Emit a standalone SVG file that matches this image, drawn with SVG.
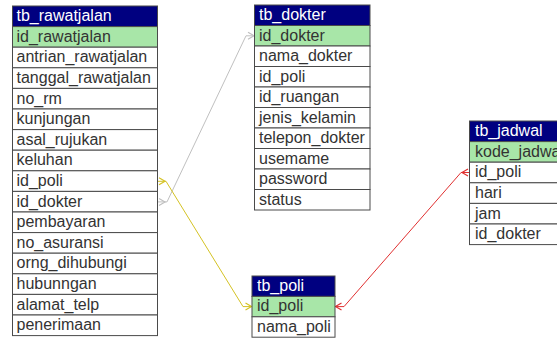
<svg xmlns="http://www.w3.org/2000/svg" width="557" height="339" viewBox="0 0 557 339">
<style>
  .bg{fill:#ffffff}
  .row{fill:#ffffff;stroke:#4a4a4a;stroke-width:1}
  .pk{fill:#a8e6a8;stroke:#4a4a4a;stroke-width:1}
  .hd{fill:#000080;stroke:#4a4a4a;stroke-width:1}
  .ht{font-family:"Liberation Sans",Arial,sans-serif;font-size:16px;fill:#ffffff}
  .t{font-family:"Liberation Sans",Arial,sans-serif;font-size:16px;fill:#333333}
  .c{fill:none;stroke-width:1}
</style>
<defs>
  <marker id="pkGray" markerUnits="userSpaceOnUse" markerWidth="8" markerHeight="8" refX="6" refY="3.5" orient="auto" overflow="visible"><path d="M0,0 L6,3.5 L0,7" fill="none" stroke="#c0c0c0" stroke-width="1.2"/></marker>
  <marker id="fkGray" markerUnits="userSpaceOnUse" markerWidth="8" markerHeight="8" refX="-1" refY="3.5" orient="auto" overflow="visible"><path d="M0,0 L6,3.5 L0,7" fill="none" stroke="#c0c0c0" stroke-width="1.2"/></marker>
  <marker id="pkYel" markerUnits="userSpaceOnUse" markerWidth="8" markerHeight="8" refX="6" refY="3.5" orient="auto" overflow="visible"><path d="M0,0 L6,3.5 L0,7" fill="none" stroke="#d4c224" stroke-width="1.2"/></marker>
  <marker id="fkYel" markerUnits="userSpaceOnUse" markerWidth="8" markerHeight="8" refX="-1" refY="3.5" orient="auto" overflow="visible"><path d="M0,0 L6,3.5 L0,7" fill="none" stroke="#d4c224" stroke-width="1.2"/></marker>
  <marker id="pkRed" markerUnits="userSpaceOnUse" markerWidth="8" markerHeight="8" refX="6" refY="3.5" orient="auto" overflow="visible"><path d="M0,0 L6,3.5 L0,7" fill="none" stroke="#e03030" stroke-width="1.2"/></marker>
  <marker id="fkRed" markerUnits="userSpaceOnUse" markerWidth="8" markerHeight="8" refX="-1" refY="3.5" orient="auto" overflow="visible"><path d="M0,0 L6,3.5 L0,7" fill="none" stroke="#e03030" stroke-width="1.2"/></marker>
</defs>
<rect class="bg" x="0" y="0" width="557" height="339"/>

<g id="connectors">
  <path class="c" stroke="#c0c0c0" d="M158,201.9 L167,201.9 L246,35.8 L254,35.8" marker-start="url(#fkGray)" marker-end="url(#pkGray)"/>
  <path class="c" stroke="#d4c224" d="M158,181.3 L166,181.3 L243,306.6 L251.5,306.6" marker-start="url(#fkYel)" marker-end="url(#pkYel)"/>
  <path class="c" stroke="#e03030" d="M469,172.5 L461,172.5 L344,306.6 L335.5,306.6" marker-start="url(#fkRed)" marker-end="url(#pkRed)"/>
</g>

<g id="tb_rawatjalan">
  <rect class="hd" x="12.5" y="6" width="145" height="20.6"/>
  <text class="ht" x="16.5" y="21">tb_rawatjalan</text>
  <rect class="pk" x="12.5" y="26.6" width="145" height="20.6"/>
  <text class="t" x="16.5" y="41.8">id_rawatjalan</text>
  <rect class="row" x="12.5" y="47.2" width="145" height="20.6"/>
  <text class="t" x="16.5" y="62.4">antrian_rawatjalan</text>
  <rect class="row" x="12.5" y="67.8" width="145" height="20.6"/>
  <text class="t" x="16.5" y="83">tanggal_rawatjalan</text>
  <rect class="row" x="12.5" y="88.4" width="145" height="20.6"/>
  <text class="t" x="16.5" y="103.6">no_rm</text>
  <rect class="row" x="12.5" y="109" width="145" height="20.6"/>
  <text class="t" x="16.5" y="124.2">kunjungan</text>
  <rect class="row" x="12.5" y="129.6" width="145" height="20.6"/>
  <text class="t" x="16.5" y="144.8">asal_rujukan</text>
  <rect class="row" x="12.5" y="150.2" width="145" height="20.6"/>
  <text class="t" x="16.5" y="165.4">keluhan</text>
  <rect class="row" x="12.5" y="170.8" width="145" height="20.6"/>
  <text class="t" x="16.5" y="186">id_poli</text>
  <rect class="row" x="12.5" y="191.4" width="145" height="20.6"/>
  <text class="t" x="16.5" y="206.6">id_dokter</text>
  <rect class="row" x="12.5" y="212" width="145" height="20.6"/>
  <text class="t" x="16.5" y="227.2">pembayaran</text>
  <rect class="row" x="12.5" y="232.6" width="145" height="20.6"/>
  <text class="t" x="16.5" y="247.8">no_asuransi</text>
  <rect class="row" x="12.5" y="253.2" width="145" height="20.6"/>
  <text class="t" x="16.5" y="268.4">orng_dihubungi</text>
  <rect class="row" x="12.5" y="273.8" width="145" height="20.6"/>
  <text class="t" x="16.5" y="289">hubunngan</text>
  <rect class="row" x="12.5" y="294.4" width="145" height="20.6"/>
  <text class="t" x="16.5" y="309.6">alamat_telp</text>
  <rect class="row" x="12.5" y="315" width="145" height="20.6"/>
  <text class="t" x="16.5" y="330.2">penerimaan</text>
</g>

<g id="tb_dokter">
  <rect class="hd" x="254.5" y="5" width="115.5" height="20.5"/>
  <text class="ht" x="259" y="20">tb_dokter</text>
  <rect class="pk" x="254.5" y="25.5" width="115.5" height="20.5"/>
  <text class="t" x="259" y="40.5">id_dokter</text>
  <rect class="row" x="254.5" y="46" width="115.5" height="20.5"/>
  <text class="t" x="259" y="61">nama_dokter</text>
  <rect class="row" x="254.5" y="66.5" width="115.5" height="20.5"/>
  <text class="t" x="259" y="81.5">id_poli</text>
  <rect class="row" x="254.5" y="87" width="115.5" height="20.5"/>
  <text class="t" x="259" y="102">id_ruangan</text>
  <rect class="row" x="254.5" y="107.5" width="115.5" height="20.5"/>
  <text class="t" x="259" y="122.5">jenis_kelamin</text>
  <rect class="row" x="254.5" y="128" width="115.5" height="20.5"/>
  <text class="t" x="259" y="143">telepon_dokter</text>
  <rect class="row" x="254.5" y="148.5" width="115.5" height="20.5"/>
  <text class="t" x="259" y="163.5">usemame</text>
  <rect class="row" x="254.5" y="169" width="115.5" height="20.5"/>
  <text class="t" x="259" y="184">password</text>
  <rect class="row" x="254.5" y="189.5" width="115.5" height="20.5"/>
  <text class="t" x="259" y="204.5">status</text>
</g>

<g id="tb_poli">
  <rect class="hd" x="252" y="276" width="83" height="20.4"/>
  <text class="ht" x="257" y="291">tb_poli</text>
  <rect class="pk" x="252" y="296.4" width="83" height="20.4"/>
  <text class="t" x="257" y="311.4">id_poli</text>
  <rect class="row" x="252" y="316.8" width="83" height="20.4"/>
  <text class="t" x="257" y="331.8">nama_poli</text>
</g>

<g id="tb_jadwal">
  <rect class="hd" x="469.5" y="121" width="120" height="20.6"/>
  <text class="ht" x="475" y="136">tb_jadwal</text>
  <rect class="pk" x="469.5" y="141.6" width="120" height="20.6"/>
  <text class="t" x="475" y="156.8">kode_jadwal</text>
  <rect class="row" x="469.5" y="162.2" width="120" height="20.6"/>
  <text class="t" x="475" y="177.4">id_poli</text>
  <rect class="row" x="469.5" y="182.8" width="120" height="20.6"/>
  <text class="t" x="475" y="198">hari</text>
  <rect class="row" x="469.5" y="203.4" width="120" height="20.6"/>
  <text class="t" x="475" y="218.6">jam</text>
  <rect class="row" x="469.5" y="224" width="120" height="20.6"/>
  <text class="t" x="475" y="239.2">id_dokter</text>
</g>
</svg>
